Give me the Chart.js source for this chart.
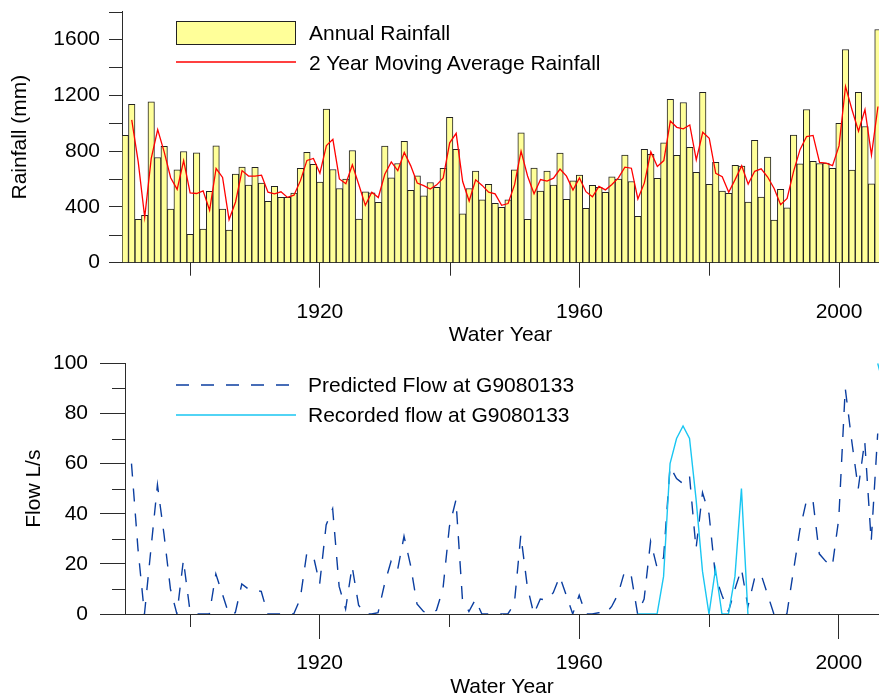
<!DOCTYPE html>
<html>
<head>
<meta charset="utf-8">
<title>Annual rainfall and flow</title>
<script src="https://cdn.jsdelivr.net/npm/chart.js@4.4.1/dist/chart.umd.min.js"></script>
<style>
  html, body { margin: 0; padding: 0; background: #fff; }
  #wrap { position: relative; width: 879px; height: 698px; overflow: hidden;
          font-family: "Liberation Sans", Arial, Helvetica, sans-serif; }
  canvas { position: absolute; left: 0; }
  #rainCanvas { top: 0; }
  #flowCanvas { top: 349px; }
  .legText { position: absolute; font-size: 21px; line-height: 21px; color: #000; white-space: nowrap; }
  .legKey { position: absolute; }
</style>
</head>
<body>
<div id="wrap">
  <canvas id="rainCanvas" width="879" height="349"></canvas>
  <canvas id="flowCanvas" width="879" height="349"></canvas>

  <div class="legKey" style="left:176px;top:21px;width:118px;height:22px;background:#ffff99;border:1px solid #222;"></div>
  <div class="legText" style="left:309px;top:22px;">Annual Rainfall</div>
  <svg class="legKey" style="left:176px;top:56px;" width="122" height="12">
    <line x1="0" y1="6" x2="120" y2="6" stroke="#ff0000" stroke-width="1.3"/>
  </svg>
  <div class="legText" style="left:309px;top:52px;">2 Year Moving Average Rainfall</div>

  <svg class="legKey" style="left:176px;top:379px;" width="122" height="12">
    <line x1="0" y1="6" x2="120" y2="6" stroke="#0b3ea0" stroke-width="1.4" stroke-dasharray="13 12"/>
  </svg>
  <div class="legText" style="left:308px;top:374px;">Predicted Flow at G9080133</div>
  <svg class="legKey" style="left:176px;top:409px;" width="122" height="12">
    <line x1="0" y1="6" x2="120" y2="6" stroke="#19c6f2" stroke-width="1.4"/>
  </svg>
  <div class="legText" style="left:308px;top:404px;">Recorded flow at G9080133</div>
</div>

<script>
// ---- data ----
const rainYears = Array.from({ length: 117 }, (_, i) => 1890 + i);   // 1890..2006
const rainfall = [
  912, 1134, 310, 339, 1153, 754, 833, 384, 666, 797,
  203, 788, 241, 511, 838, 384, 234, 635, 685, 556,
  683, 571, 439, 547, 468, 468, 499, 676, 790, 704,
  578, 1100, 668, 532, 599, 804, 313, 508, 501, 432,
  835, 609, 711, 869, 518, 623, 480, 575, 540, 676,
  1041, 812, 351, 532, 656, 451, 561, 425, 396, 451,
  666, 931, 310, 678, 513, 656, 556, 785, 454, 587,
  628, 389, 554, 540, 504, 616, 599, 771, 582, 332,
  812, 776, 604, 859, 1170, 769, 1148, 826, 647, 1220,
  561, 719, 513, 497, 697, 692, 434, 876, 470, 757,
  306, 525, 394, 914, 709, 1098, 726, 711, 714, 676,
  998, 1528, 664, 1220, 976, 566, 1671
];

const avgYears = Array.from({ length: 116 }, (_, i) => 1891 + i);    // 1891..2006
const movingAvg = [
  1023, 722, 325, 746, 954, 794, 609, 525, 732, 500,
  496, 515, 376, 675, 611, 309, 435, 660, 621, 620,
  627, 505, 493, 508, 468, 484, 588, 733, 747, 641,
  839, 884, 600, 566, 702, 559, 411, 505, 467, 634,
  722, 660, 790, 694, 571, 552, 528, 558, 608, 859,
  927, 582, 442, 594, 554, 506, 493, 411, 424, 559,
  799, 621, 494, 596, 585, 606, 671, 620, 521, 608,
  509, 472, 547, 522, 560, 608, 685, 677, 457, 572,
  794, 690, 732, 1015, 970, 959, 987, 737, 934, 891,
  640, 616, 505, 597, 695, 563, 655, 673, 614, 532,
  416, 460, 654, 812, 904, 912, 719, 713, 695, 837,
  1263, 1096, 942, 1098, 771, 1119
];

const predictedYears = avgYears;                                     // 1891..2006
const predictedFlow = [
  60, 26, 0, 26, 51.5, 32, 10, 0, 21.5, 1.5,
  0, 0, 0, 16, 8, 0, 0.5, 12, 10, 9.5,
  9, 0, 0, 0, 0, 0, 6, 24, 23.5, 12,
  35.5, 42, 11, 2, 19, 3.5, 0, 0, 0.5, 12,
  21, 17.5, 31, 19.5, 4, 1, 0, 1.5, 10, 35,
  45.5, 6, 1, 5.8, 0, 0, 0, 0, 0, 4,
  31.5, 11, 0, 6, 5.5, 8.5, 15, 7.5, 0, 7.5,
  0, 0, 0.5, 0, 3, 8, 17, 15.5, 0, 6,
  29, 18.5, 22.5, 58.8, 54, 52, 55, 26, 48.4, 40,
  15, 7.5, 1, 10, 18, 3, 14, 16, 8, 0,
  0, 0, 17, 33.5, 45, 45.7, 24, 21, 19, 38,
  90, 69, 50, 69, 29, 72
];

const recordedYears = [1969, 1970, 1971, 1972, 1973, 1974, 1975, 1976, 1977, 1978,
                       1979, 1980, 1981, 1982, 1983, 1984, 1985, 1986, 1987, 2006, 2007];
const recordedFlow = [0, 0, 0, 0, 15, 60, 70, 75, 70, 46,
                      17, 0, 18, 0, 0, 15, 50, 0, null, 100, 90];

const xMajorEvery = 40;     // labelled years 1920, 1960, 2000
const xStep = 20;
// ---------------------------------------

const AXIS = "#2b2b2b";
const FONT = "'Liberation Sans', Arial, Helvetica, sans-serif";
Chart.defaults.font.family = FONT;
Chart.defaults.font.size = 21;
Chart.defaults.color = "#000";

const toPoints = (xs, ys) => xs.map((x, i) => ({ x, y: ys[i] }));

// short ticks between the labelled ones
const minorTicks = {
  id: "minorTicks",
  afterDraw(chart, args, opts) {
    const ctx = chart.ctx;
    const xs = chart.scales.x;
    const ys = chart.scales.y;
    ctx.save();
    ctx.strokeStyle = AXIS;
    ctx.lineWidth = 1;
    xs.ticks.forEach((t) => {
      if (t.value % opts.xMajor === 0) return;
      const px = Math.round(xs.getPixelForValue(t.value)) + 0.5;
      ctx.beginPath();
      ctx.moveTo(px, xs.top);
      ctx.lineTo(px, xs.top + opts.len);
      ctx.stroke();
    });
    ys.ticks.forEach((t) => {
      if (t.value % opts.yMajor === 0) return;
      const py = Math.round(ys.getPixelForValue(t.value)) + 0.5;
      ctx.beginPath();
      ctx.moveTo(ys.right - opts.len, py);
      ctx.lineTo(ys.right, py);
      ctx.stroke();
    });
    ctx.restore();
  },
};

function xAxis(min, max, axisHeight, labelPad, titlePad) {
  return {
    type: "linear",
    position: "bottom",
    min,
    max,
    offset: false,
    afterFit: (scale) => {
      scale.height = axisHeight;
      scale.paddingLeft = 0;
      scale.paddingRight = 0;
    },
    border: { display: true, color: AXIS, width: 1 },
    grid: {
      offset: false,
      drawOnChartArea: false,
      drawTicks: true,
      tickLength: 25,
      tickWidth: 1,
      tickColor: (c) => (c.tick && c.tick.value % xMajorEvery === 0 ? AXIS : "rgba(0,0,0,0)"),
    },
    ticks: {
      stepSize: xStep,
      includeBounds: false,
      autoSkip: false,
      maxRotation: 0,
      padding: labelPad,
      callback: (v) => (v % xMajorEvery === 0 ? String(v) : ""),
    },
    title: {
      display: true,
      text: "Water Year",
      font: { lineHeight: 1 },
      padding: { top: 0, bottom: titlePad },
    },
  };
}

function yAxis(max, step, major, axisWidth, majorLen, labelPad, titleText, titlePad) {
  return {
    type: "linear",
    min: 0,
    max,
    afterFit: (scale) => {
      scale.width = axisWidth;
      scale.paddingTop = 0;
      scale.paddingBottom = 0;
    },
    border: { display: true, color: AXIS, width: 1 },
    grid: {
      drawOnChartArea: false,
      drawTicks: true,
      tickLength: majorLen,
      tickWidth: 1,
      tickColor: (c) => (c.tick && c.tick.value % major === 0 ? AXIS : "rgba(0,0,0,0)"),
    },
    ticks: {
      stepSize: step,
      autoSkip: false,
      padding: labelPad,
      callback: (v) => (v % major === 0 ? String(v) : ""),
    },
    title: { display: true, text: titleText, padding: { top: titlePad, bottom: 0 } },
  };
}

// ---- top panel: annual rainfall ----
new Chart(document.getElementById("rainCanvas"), {
  type: "bar",
  data: {
    datasets: [
      {
        type: "line",
        label: "2 Year Moving Average Rainfall",
        data: toPoints(avgYears, movingAvg),
        borderColor: "#ff0000",
        borderWidth: 1.3,
        pointRadius: 0,
        tension: 0,
        order: 0,
      },
      {
        type: "bar",
        label: "Annual Rainfall",
        data: toPoints(rainYears, rainfall),
        backgroundColor: "#ffff99",
        borderColor: "#222222",
        borderWidth: 1,
        barPercentage: 1,
        categoryPercentage: 1,
        order: 1,
      },
    ],
  },
  options: {
    responsive: false,
    animation: false,
    events: [],
    layout: { padding: { top: 11.5, left: 0, right: 0, bottom: 0 } },
    plugins: {
      legend: { display: false },
      tooltip: { enabled: false },
      minorTicks: { xMajor: xMajorEvery, yMajor: 400, len: 13 },
    },
    scales: {
      x: xAxis(1889.5, 2006.16, 86.3, 12, 3),
      y: yAxis(1800, 200, 400, 122, 13, 9, "Rainfall (mm)", 8),
    },
  },
  plugins: [minorTicks],
});

// ---- bottom panel: flow ----
new Chart(document.getElementById("flowCanvas"), {
  type: "line",
  data: {
    datasets: [
      {
        label: "Recorded flow at G9080133",
        data: toPoints(recordedYears, recordedFlow),
        borderColor: "#19c6f2",
        borderWidth: 1.4,
        pointRadius: 0,
        tension: 0,
        spanGaps: false,
        order: 0,
      },
      {
        label: "Predicted Flow at G9080133",
        data: toPoints(predictedYears, predictedFlow),
        borderColor: "#0b3ea0",
        borderWidth: 1.4,
        borderDash: [13, 12],
        pointRadius: 0,
        tension: 0,
        order: 1,
      },
    ],
  },
  options: {
    responsive: false,
    animation: false,
    events: [],
    layout: { padding: { top: 14.3, left: 0, right: 0, bottom: 0 } },
    plugins: {
      legend: { display: false },
      tooltip: { enabled: false },
      minorTicks: { xMajor: xMajorEvery, yMajor: 20, len: 13 },
    },
    scales: {
      x: xAxis(1890, 2006.2, 84, 12, 0),
      y: yAxis(100, 10, 20, 125, 25, 12, "Flow L/s", 22),
    },
  },
  plugins: [minorTicks],
});
</script>
</body>
</html>
